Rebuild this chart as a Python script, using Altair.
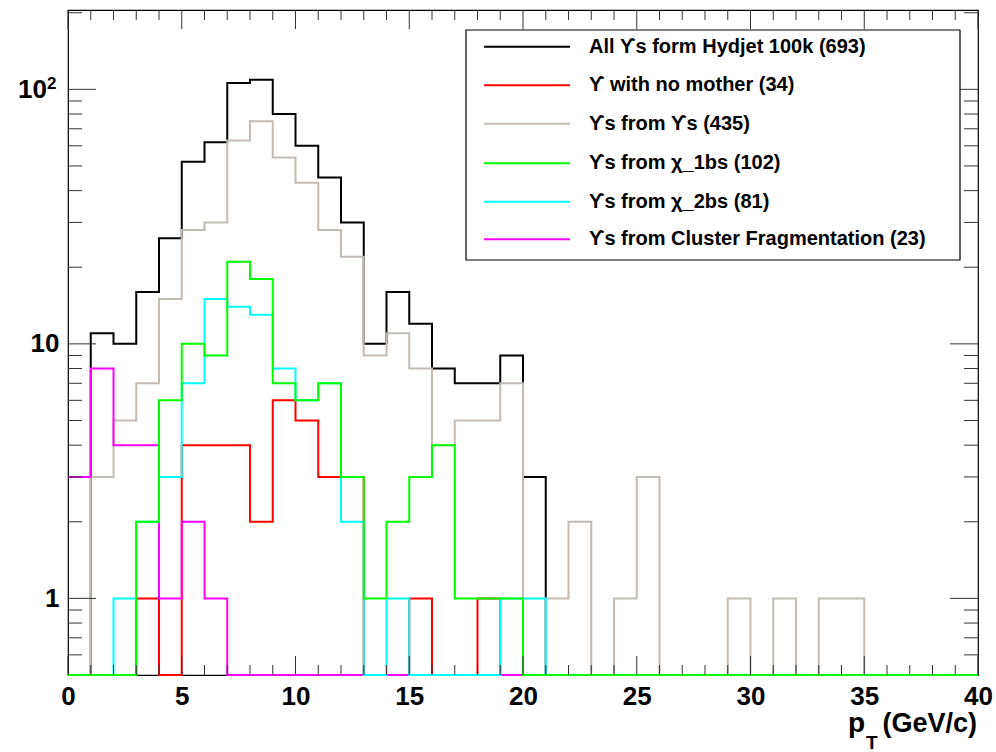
import altair as alt
import pandas as pd

# Upsilon pT spectra, 1 GeV/c bins from 0 to 40 GeV/c (counts per bin)
bin_lo = list(range(40))

all_ups = [0, 11, 10, 16, 26, 52, 62, 106, 109, 80,
           60, 45, 30, 10, 16, 12, 8, 7, 7, 9,
           3, 0, 0, 0, 0, 0, 0, 0, 0, 0,
           0, 0, 0, 0, 0, 0, 0, 0, 0, 0]
no_mother = [0, 0, 0, 1, 0, 4, 4, 4, 2, 6,
             5, 3, 3, 0, 0, 1, 0, 0, 1, 0,
             0, 0, 0, 0, 0, 0, 0, 0, 0, 0,
             0, 0, 0, 0, 0, 0, 0, 0, 0, 0]
from_ups = [0, 3, 5, 7, 15, 28, 30, 63, 75, 54,
            43, 28, 22, 9, 11, 8, 4, 5, 5, 7,
            0, 1, 2, 0, 1, 3, 0, 0, 0, 1,
            0, 1, 0, 1, 1, 0, 0, 0, 0, 0]
from_chi1 = [0, 0, 0, 2, 6, 10, 9, 21, 18, 7,
             6, 7, 3, 1, 2, 3, 4, 1, 1, 1,
             0, 0, 0, 0, 0, 0, 0, 0, 0, 0,
             0, 0, 0, 0, 0, 0, 0, 0, 0, 0]
from_chi2 = [0, 0, 1, 2, 3, 7, 15, 14, 13, 8,
             6, 7, 2, 0, 1, 0, 0, 0, 0, 1,
             1, 0, 0, 0, 0, 0, 0, 0, 0, 0,
             0, 0, 0, 0, 0, 0, 0, 0, 0, 0]
cluster = [3, 8, 4, 4, 1, 2, 1, 0, 0, 0,
           0, 0, 0, 0, 0, 0, 0, 0, 0, 0,
           0, 0, 0, 0, 0, 0, 0, 0, 0, 0,
           0, 0, 0, 0, 0, 0, 0, 0, 0, 0]

legend_labels = [
    "All \u03d2s form Hydjet 100k (693)",
    "\u03d2  with no mother (34)",
    "\u03d2s from \u03d2s (435)",
    "\u03d2s from \u03c7_1bs (102)",
    "\u03d2s from \u03c7_2bs (81)",
    "\u03d2s from Cluster Fragmentation (23)",
]
series_keys = ["all", "nomother", "ups", "chi1", "chi2", "cluster"]
series_counts = [all_ups, no_mother, from_ups, from_chi1, from_chi2, cluster]
series_colors = ["#000000", "#ff0000", "#c4bbb2", "#00ff00", "#00ffff", "#ff00ff"]
# order in which the histograms are stacked on the canvas
draw_order = ["all", "ups", "nomother", "cluster", "chi2", "chi1"]

# axis tick positions
x_major = [0, 5, 10, 15, 20, 25, 30, 35, 40]
x_minor = [v for v in range(1, 40) if v % 5 != 0]
y_major = [1, 10, 100]
y_minor = [0.6, 0.7, 0.8, 0.9, 2, 3, 4, 5, 6, 7, 8, 9,
           20, 30, 40, 50, 60, 70, 80, 90, 200]

W, H = 910, 665
FONT = "Liberation Sans"
TICK = "#333333"

# long table: one step point per bin edge, last bin repeated at the upper edge
rows = []
for key, counts in zip(series_keys, series_counts):
    for i in range(41):
        rows.append({"series": key, "pt": i, "count": counts[min(i, 39)]})
hist = pd.DataFrame(rows)

xscale = alt.Scale(domain=[0, 40], nice=False, zero=False)
yscale = alt.Scale(type="log", domain=[0.5, 205], nice=False, clamp=True)
xaxis = alt.Axis(values=x_major, ticks=False, domain=False, grid=False,
                 labelFont=FONT, labelFontWeight="bold", labelFontSize=26,
                 labelColor="black", labelPadding=8, labelFlush=False,
                 labelOverlap=False, title=None)
# the 10^2 decade label is drawn separately with a raised exponent
yaxis = alt.Axis(values=y_major, ticks=False, domain=False, grid=False,
                 labelFont=FONT, labelFontWeight="bold", labelFontSize=26,
                 labelColor="black", labelPadding=9, labelOverlap=False,
                 labelExpr="datum.value >= 100 ? '' : (datum.value >= 10 ? '10' : '1')",
                 title=None)

color_of = dict(zip(series_keys, series_colors))


def step_layer(key):
    return (
        alt.Chart(hist)
        .transform_filter(alt.datum.series == key)
        # empty bins sit on the lower edge of the log frame
        .transform_calculate(shown="max(datum.count, 0.5)")
        .mark_line(interpolate="step-after", color=color_of[key], strokeWidth=2)
        .encode(
            x=alt.X("pt:Q", scale=xscale, axis=xaxis),
            y=alt.Y("shown:Q", scale=yscale, axis=yaxis),
        )
    )


def x_ticks(values, length, top):
    base = alt.Chart(pd.DataFrame({"t": values})).mark_rule(color=TICK, strokeWidth=1)
    if top:
        ys = dict(y=alt.value(0), y2=alt.value(length))
    else:
        ys = dict(y=alt.value(H), y2=alt.value(H - length))
    return base.encode(x=alt.X("t:Q", scale=xscale, axis=xaxis), **ys)


def y_ticks(values, length, right):
    base = alt.Chart(pd.DataFrame({"t": values})).mark_rule(color=TICK, strokeWidth=1)
    if right:
        xs = dict(x=alt.value(W), x2=alt.value(W - length))
    else:
        xs = dict(x=alt.value(0), x2=alt.value(length))
    return base.encode(y=alt.Y("t:Q", scale=yscale, axis=yaxis), **xs)


layers = [step_layer(k) for k in draw_order]
layers += [
    x_ticks(x_minor, 10, False), x_ticks(x_major, 19, False),
    x_ticks(x_minor, 10, True), x_ticks(x_major, 19, True),
    y_ticks(y_minor, 14, False), y_ticks(y_major, 28, False),
    y_ticks(y_minor, 14, True), y_ticks(y_major, 28, True),
]

# 10^2 label: mantissa on the tick, exponent raised to its right
layers.append(
    alt.Chart(pd.DataFrame({"s": ["10"]}))
    .mark_text(align="right", baseline="middle", font=FONT, fontWeight="bold",
               fontSize=26, color="black")
    .encode(x=alt.value(-21), y=alt.value(80), text="s:N")
)
layers.append(
    alt.Chart(pd.DataFrame({"s": ["2"]}))
    .mark_text(align="left", baseline="alphabetic", font=FONT, fontWeight="bold",
               fontSize=17, color="black")
    .encode(x=alt.value(-21), y=alt.value(79), text="s:N")
)

# legend box
one = pd.DataFrame({"k": [0]})
layers.append(
    alt.Chart(one).mark_rect(fill="white", stroke="black", strokeWidth=1.2).encode(
        x=alt.value(398), x2=alt.value(892), y=alt.value(20), y2=alt.value(250)
    )
)
row_y = [36.7, 75.3, 113.7, 153.3, 191.7, 229.3]
for key, label, yy in zip(series_keys, legend_labels, row_y):
    layers.append(
        alt.Chart(one).mark_rule(color=color_of[key], strokeWidth=2).encode(
            x=alt.value(416), x2=alt.value(502), y=alt.value(yy), y2=alt.value(yy)
        )
    )
    layers.append(
        alt.Chart(pd.DataFrame({"label": [label]}))
        .mark_text(align="left", baseline="middle", font=FONT, fontWeight="bold",
                   fontSize=20, color="black")
        .encode(x=alt.value(521), y=alt.value(yy), text="label:N")
    )

# x-axis title p_T (GeV/c)
layers.append(
    alt.Chart(pd.DataFrame({"s": ["p"]}))
    .mark_text(align="left", baseline="alphabetic", font=FONT, fontWeight="bold",
               fontSize=28, color="black")
    .encode(x=alt.value(780), y=alt.value(722), text="s:N")
)
layers.append(
    alt.Chart(pd.DataFrame({"s": ["T"]}))
    .mark_text(align="left", baseline="alphabetic", font=FONT, fontWeight="bold",
               fontSize=19, color="black")
    .encode(x=alt.value(798), y=alt.value(739), text="s:N")
)
layers.append(
    alt.Chart(pd.DataFrame({"s": ["(GeV/c)"]}))
    .mark_text(align="right", baseline="alphabetic", font=FONT, fontWeight="bold",
               fontSize=27, color="black")
    .encode(x=alt.value(909), y=alt.value(722), text="s:N")
)

chart = (
    alt.layer(*layers)
    .properties(
        width=W,
        height=H,
        autosize="none",
        padding={"left": 68, "top": 10, "right": 18, "bottom": 77},
        background="white",
    )
    .configure_view(stroke="black", strokeWidth=1.2)
)

chart.save("out.html", embed_options={"renderer": "svg", "actions": False})
